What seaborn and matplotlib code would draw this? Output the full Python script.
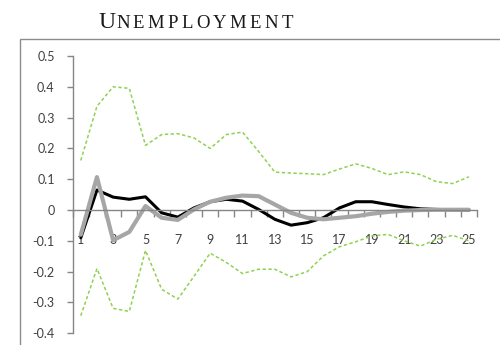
import numpy as np
import pandas as pd
import matplotlib
matplotlib.use("Agg")
import matplotlib.pyplot as plt
from matplotlib.patches import Rectangle
import seaborn as sns

# Impulse response of unemployment, periods 1..25
periods = list(range(1, 26))
response_a = [-0.09, 0.065, 0.042, 0.035, 0.043, -0.009, -0.023, 0.007, 0.027, 0.035,
              0.029, 0.002, -0.03, -0.049, -0.041, -0.025, 0.007, 0.027, 0.027, 0.018,
              0.01, 0.004, 0.002, 0.001, 0.0]
response_b = [-0.08, 0.107, -0.098, -0.071, 0.013, -0.025, -0.032, 0.002, 0.027, 0.04,
              0.047, 0.045, 0.018, -0.009, -0.025, -0.03, -0.025, -0.02, -0.012, -0.006,
              -0.002, 0.0, 0.001, 0.001, 0.001]
upper_band = [0.161, 0.337, 0.40, 0.395, 0.21, 0.245, 0.248, 0.234, 0.20, 0.245,
              0.253, 0.19, 0.123, 0.12, 0.118, 0.115, 0.133, 0.15, 0.135, 0.115,
              0.124, 0.115, 0.092, 0.086, 0.108]
lower_band = [-0.343, -0.19, -0.319, -0.329, -0.131, -0.257, -0.289, -0.215, -0.14, -0.17,
              -0.206, -0.192, -0.192, -0.217, -0.2, -0.149, -0.119, -0.103, -0.084, -0.079,
              -0.1, -0.117, -0.095, -0.082, -0.1]
y_ticks = [0.5, 0.4, 0.3, 0.2, 0.1, 0.0, -0.1, -0.2, -0.3, -0.4]
y_tick_labels = ["0.5", "0.4", "0.3", "0.2", "0.1", "0", "-0.1", "-0.2", "-0.3", "-0.4"]
x_tick_labels = [str(p) for p in periods[::2]]
title_first, title_rest = "U", "NEMPLOYMENT"

df = pd.DataFrame({"period": periods, "a": response_a, "b": response_b,
                   "hi": upper_band, "lo": lower_band})

sns.set_style("white")
plt.rcParams["font.family"] = ["Lato", "DejaVu Sans"]

W, H = 500, 345
fig = plt.figure(figsize=(W / 100, H / 100), dpi=100)
ax = fig.add_axes([72.7 / W, 1 - 333.3 / H, (477 - 72.7) / W, (333.3 - 56) / H])

green = "#92D050"
sns.lineplot(data=df, x="period", y="hi", ax=ax, color=green, lw=1.1,
             linestyle=(0, (2.2, 1.6)))
sns.lineplot(data=df, x="period", y="lo", ax=ax, color=green, lw=1.1,
             linestyle=(0, (2.2, 1.6)))
sns.lineplot(data=df, x="period", y="a", ax=ax, color="black", lw=2.2)
sns.lineplot(data=df, x="period", y="b", ax=ax, color="#A6A6A6", lw=3.0)

ax.set_xlim(0.5, 25.5)
ax.set_ylim(-0.4, 0.5)
ax.set_xlabel("")
ax.set_ylabel("")

spine_color = "#868686"
for side in ["top", "right"]:
    ax.spines[side].set_visible(False)
ax.spines["left"].set_color(spine_color)
ax.spines["bottom"].set_color(spine_color)
ax.spines["left"].set_linewidth(1.0)
ax.spines["bottom"].set_linewidth(1.0)
ax.spines["bottom"].set_position(("data", 0))

ax.set_yticks(y_ticks)
ax.set_yticklabels(y_tick_labels)
ax.tick_params(axis="y", direction="out", length=4, width=1, color=spine_color,
               labelsize=9, labelcolor="#404040", pad=9, left=True)

ax.set_xticks(periods[::2])
ax.set_xticklabels(x_tick_labels)
ax.set_xticks(np.arange(0.5, 26, 1.0), minor=True)
ax.tick_params(axis="x", which="major", length=0, labelsize=9, labelcolor="#404040", pad=17)
ax.tick_params(axis="x", which="minor", direction="out", length=5, width=1,
               color=spine_color, bottom=True)
ax.grid(False)

# chart area border
fig.patches.append(Rectangle((19.5 / W, -0.1), 1.0, 1 - 38.5 / H + 0.1,
                             transform=fig.transFigure, fill=False,
                             edgecolor="#8C8C8C", lw=1.0))

# small-caps style title with letter tracking
serif = "Liberation Serif"
base_y = 1 - 28.5 / H
renderer = fig.canvas.get_renderer()
t = fig.text(116 / W, base_y, title_first, ha="right", va="baseline",
             fontsize=17, family=serif, color="#1a1a1a")
x_px = 116.0
tracking = 3.3
for ch in title_rest:
    t = fig.text(x_px / W, base_y, ch, ha="left", va="baseline",
                 fontsize=13.5, family=serif, color="#1a1a1a")
    x_px += t.get_window_extent(renderer).width + tracking

fig.savefig("out.png", dpi=100)
